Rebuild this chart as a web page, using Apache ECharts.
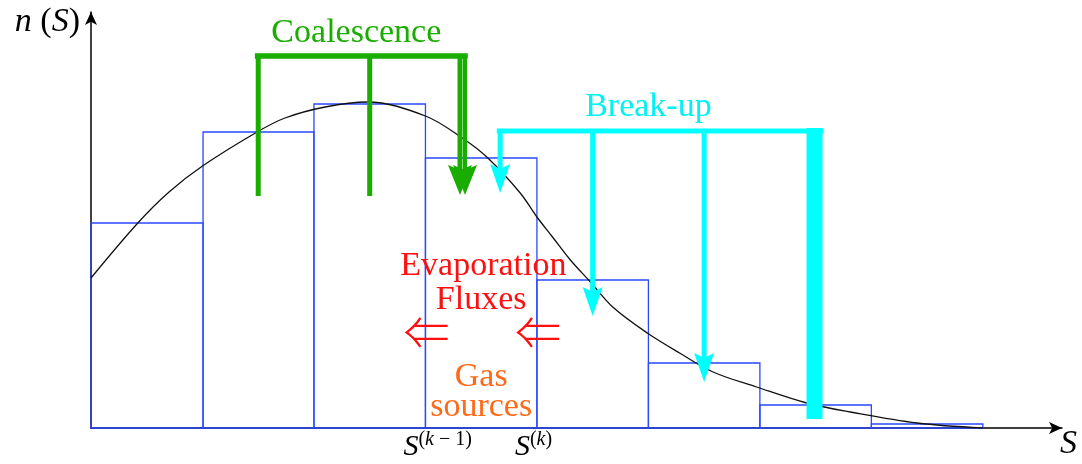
<!DOCTYPE html>
<html>
<head>
<meta charset="utf-8">
<script src="https://cdn.jsdelivr.net/npm/echarts@6/dist/echarts.min.js"></script>
<style>
  html, body { margin: 0; padding: 0; background: #fff; }
  #chart { width: 1082px; height: 464px; }
</style>
</head>
<body>
<div id="chart"></div>
<script>
// histogram bins: edges along S and bar heights n(S)
const binEdges = [0, 1.005, 2.0, 3.0, 4.0, 5.0, 6.0, 7.0, 8.0];
const binHeights = [205, 296, 324, 270, 148, 65, 23, 4];

// continuous size distribution
const curveS = [0, 0.42, 0.7, 1.0, 1.49, 1.74, 2.1, 2.48, 3.0, 3.33, 3.56, 3.85, 4.0, 4.14, 4.30, 4.48, 4.68, 4.99, 5.28, 5.58, 5.97, 6.42, 6.81, 7.41, 8.0];
const curveN = [150, 205, 236, 262, 296, 310, 321, 326, 312, 290, 270, 235, 211, 191, 168, 146, 121, 95, 75, 56, 41, 25, 16, 5, 0];

// coalescence bracket (green)
const coalBarX = [1.47, 3.38];
const coalTop = 372;
const coalStemX = [1.5, 2.5, 3.31, 3.355];
const coalStemEnd = [232, 232, 233, 233];
const coalHead = [false, false, true, true];

// break-up bracket (cyan)
const breakBarX = [3.64, 6.57];
const breakTop = 297;
const breakStemX = [3.67, 4.5, 5.5];
const breakStemEnd = [235, 112, 46];
const breakBlockX = 6.49;
const breakBlockBottom = 9;

// tick labels under the axis
const tickValues = [3, 4];
const tickSup = ['{p|(}{pi|k}{p| − 1)}', '{p|(}{pi|k}{p|)}'];

// annotation texts [S, n, text, colour]
const notes = [
  [2.38, 395, 'Coalescence', '#19ad00'],
  [5.0, 321, 'Break-up', '#00f2f2'],
  [3.52, 162, 'Evaporation', '#ff1010'],
  [3.50, 128, 'Fluxes', '#ff1010'],
  [3.0, 96, '⇐', '#ff1010'],
  [4.0, 96, '⇐', '#ff1010'],
  [3.50, 51, 'Gas', '#ff6a1a'],
  [3.50, 21, 'sources', '#ff6a1a']
];

const FONT = 'Liberation Serif';
const GREEN = '#19ad00';
const CYAN = '#00ffff';

const binData = binHeights.map((h, i) => [binEdges[i], binEdges[i + 1], h]);
const curveData = curveS.map((s, i) => [s, curveN[i]]);

function renderBin(params, api) {
  const p0 = api.coord([api.value(0), api.value(2)]);
  const p1 = api.coord([api.value(1), 0]);
  return {
    type: 'rect',
    shape: { x: p0[0], y: p0[1], width: p1[0] - p0[0], height: p1[1] - p0[1] },
    style: { fill: 'none', stroke: '#2a48ff', lineWidth: 1.3 }
  };
}

function head(children, px, tipY, hw, hl, color) {
  children.push({
    type: 'polygon',
    shape: { points: [[px, tipY], [px - hw, tipY - hl], [px, tipY - hl + 5], [px + hw, tipY - hl]] },
    style: { fill: color }
  });
}

function renderArrows(params, api) {
  const children = [];
  // green
  let a = api.coord([coalBarX[0], coalTop]);
  let b = api.coord([coalBarX[1], coalTop]);
  children.push({ type: 'line', shape: { x1: a[0], y1: a[1], x2: b[0], y2: b[1] }, style: { stroke: GREEN, lineWidth: 5.5 } });
  coalStemX.forEach((x, i) => {
    const t = api.coord([x, coalTop]);
    const e = api.coord([x, coalStemEnd[i]]);
    const w = i === 3 ? 4 : 5;
    const endY = coalHead[i] ? e[1] - 26 : e[1];
    children.push({ type: 'line', shape: { x1: t[0], y1: t[1], x2: t[0], y2: endY }, style: { stroke: GREEN, lineWidth: w } });
    if (coalHead[i]) head(children, e[0], e[1], 12, 30, GREEN);
  });
  // cyan
  a = api.coord([breakBarX[0], breakTop]);
  b = api.coord([breakBarX[1], breakTop]);
  children.push({ type: 'line', shape: { x1: a[0], y1: a[1], x2: b[0], y2: b[1] }, style: { stroke: CYAN, lineWidth: 5 } });
  breakStemX.forEach((x, i) => {
    const t = api.coord([x, breakTop]);
    const e = api.coord([x, breakStemEnd[i]]);
    children.push({ type: 'line', shape: { x1: t[0], y1: t[1] - 2, x2: t[0], y2: e[1] - 24 }, style: { stroke: CYAN, lineWidth: 5 } });
    head(children, e[0], e[1], 10, 29, CYAN);
  });
  const bt = api.coord([breakBlockX, breakTop + 3]);
  const bb = api.coord([breakBlockX, breakBlockBottom]);
  children.push({ type: 'rect', shape: { x: bt[0] - 8, y: bt[1], width: 16, height: bb[1] - bt[1] }, style: { fill: CYAN } });
  return { type: 'group', children: children };
}

function renderNote(params, api) {
  const p = api.coord([api.value(0), api.value(1)]);
  const item = notes[params.dataIndex];
  const isArrow = item[2] === '⇐';
  return {
    type: 'text',
    x: p[0] + (isArrow ? 1 : 0), y: p[1],
    style: {
      text: item[2], fill: item[3],
      font: (isArrow ? '300 46px "Noto Sans CJK SC", "DejaVu Sans"' : '34px "' + FONT + '"'),
      align: 'center', verticalAlign: 'middle'
    }
  };
}

function renderTick(params, api) {
  const p = api.coord([api.value(0), 0]);
  return {
    type: 'text',
    x: p[0] - 22, y: p[1] + 2,
    style: {
      text: '{s|S}' + tickSup[params.dataIndex],
      align: 'left', verticalAlign: 'top',
      rich: {
        s: { fontFamily: FONT, fontStyle: 'italic', fontSize: 30, fill: '#000', verticalAlign: 'bottom', lineHeight: 32 },
        p: { fontFamily: FONT, fontSize: 20, fill: '#000', verticalAlign: 'top', lineHeight: 32 },
        pi: { fontFamily: FONT, fontStyle: 'italic', fontSize: 20, fill: '#000', verticalAlign: 'top', lineHeight: 32 }
      }
    }
  };
}

const chart = echarts.init(document.getElementById('chart'));
chart.setOption({
  animation: false,
  grid: { left: 91, top: 12, right: 20, bottom: 36 },
  xAxis: {
    type: 'value', min: 0, max: 8.71,
    axisLine: { lineStyle: { color: '#000', width: 1.5 }, symbol: ['none', 'arrow'], symbolSize: [9, 13] },
    axisTick: { show: false }, axisLabel: { show: false }, splitLine: { show: false },
    name: '{i|S}', nameLocation: 'end', nameGap: -2,
    nameTextStyle: { padding: [32, 0, 0, 0], verticalAlign: 'middle', rich: { i: { fontFamily: FONT, fontStyle: 'italic', fontSize: 34, color: '#000' } } }
  },
  yAxis: {
    type: 'value', min: 0, max: 416,
    axisLine: { lineStyle: { color: '#000', width: 1.5 }, symbol: ['none', 'arrow'], symbolSize: [9, 13] },
    axisTick: { show: false }, axisLabel: { show: false }, splitLine: { show: false },
    name: '{i|n}{r| (}{i|S}{r|)}', nameLocation: 'end', nameGap: -10,
    nameTextStyle: {
      align: 'right', verticalAlign: 'middle', padding: [0, 11, 0, 0],
      rich: {
        i: { fontFamily: FONT, fontStyle: 'italic', fontSize: 34, color: '#000' },
        r: { fontFamily: FONT, fontSize: 34, color: '#000' }
      }
    }
  },
  series: [
    { type: 'custom', renderItem: renderBin, data: binData, z: 1, silent: true },
    { type: 'line', data: curveData, smooth: 0.35, showSymbol: false, lineStyle: { color: '#111', width: 1.3 }, z: 2, silent: true },
    { type: 'custom', renderItem: renderArrows, data: [[0, 0]], z: 3, silent: true },
    { type: 'custom', renderItem: renderNote, data: notes.map(n => [n[0], n[1]]), z: 4, silent: true },
    { type: 'custom', renderItem: renderTick, data: tickValues.map(v => [v, 0]), z: 4, silent: true }
  ]
});
</script>
</body>
</html>
